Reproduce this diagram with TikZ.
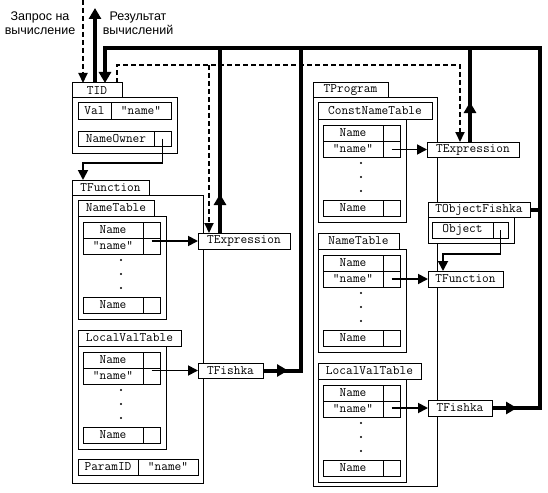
\documentclass[tikz,border=0pt]{standalone}
\usepackage{fontspec}
\newfontfamily\rufont{Liberation Sans}
\usetikzlibrary{arrows.meta}
\tikzset{
cell/.style={draw, fill=white, line width=1pt, inner sep=0pt, outer sep=0pt, anchor=north west, font=\ttfamily\fontsize{13}{13}\selectfont},
bus/.style={line width=4pt},
busarrow/.style={bus, -{Triangle[length=11pt,width=12pt]}},
req/.style={line width=2pt, dash pattern=on 5pt off 3pt},
reqarrow/.style={req, -{Triangle[length=10pt,width=9pt]}},
ptr/.style={line width=1.8pt, -{Triangle[length=10pt,width=10pt]}},
lbl/.style={align=center, font=\rufont\fontsize{12.5}{14}\selectfont}
}
\newcommand{\nametbl}[5]{
\begin{scope}[shift={(#2,#3)}]
\node[cell, minimum width=#4, minimum height=16] (#1tab) at (0,0) {#5};
\node[cell, minimum width=88, minimum height=103] (#1) at (0,16) {};
\node[cell, minimum width=60, minimum height=16] (#1a) at (5,22) {Name};
\node[cell, minimum width=17, minimum height=16] (#1ap) at (65,22) {};
\node[cell, minimum width=60, minimum height=16] (#1b) at (5,38) {"name"};
\node[cell, minimum width=17, minimum height=16] (#1bp) at (65,38) {};
\foreach \y in {60,74,88}
{
\fill (43,\y) circle (1.2pt);
}
\node[cell, minimum width=60, minimum height=16] (#1c) at (5,97) {Name};
\node[cell, minimum width=17, minimum height=16] (#1cp) at (65,97) {};
\end{scope}
}
\begin{document}
\begin{tikzpicture}[x=1pt,y=-1pt]
\useasboundingbox (0,0) rectangle (548,492);
\node[cell, minimum width=50, minimum height=15] (tidtab) at (72,83) {TID};
\node[cell, minimum width=105, minimum height=55] (tid) at (72,98) {};
\node[cell, minimum width=33, minimum height=16] (val) at (78,103) {Val};
\node[cell, minimum width=60, minimum height=16] (valn) at (111,103) {"name"};
\node[cell, minimum width=76, minimum height=15] (owner) at (78,131) {NameOwner};
\node[cell, minimum width=17, minimum height=15] (ownerp) at (154,131) {};
\node[cell, minimum width=77, minimum height=15] (funtab) at (72,180) {TFunction};
\node[cell, minimum width=131, minimum height=288] (fun) at (72,195) {};
\nametbl{ntL}{78}{200}{76}{NameTable}
\nametbl{lvL}{78}{330}{103}{LocalValTable}
\node[cell, minimum width=60, minimum height=16] (param) at (78,459) {ParamID};
\node[cell, minimum width=60, minimum height=16] (paramn) at (138,459) {"name"};
\node[cell, minimum width=92, minimum height=16] (texprL) at (198,233) {TExpression};
\node[cell, minimum width=65, minimum height=15] (tfishL) at (198,363) {TFishka};
\node[cell, minimum width=75, minimum height=15] (progtab) at (313,83) {TProgram};
\node[cell, minimum width=124, minimum height=388] (prog) at (313,98) {};
\nametbl{cnt}{318}{103}{114}{ConstNameTable}
\nametbl{ntR}{318}{233}{81}{NameTable}
\nametbl{lvR}{318}{363}{103}{LocalValTable}
\node[cell, minimum width=92, minimum height=15] (texprR) at (427,142) {TExpression};
\node[cell, minimum width=102, minimum height=15] (objtab) at (428,202) {TObjectFishka};
\node[cell, minimum width=86, minimum height=26] (obj) at (428,217) {};
\node[cell, minimum width=61, minimum height=16] (objn) at (432,222) {Object};
\node[cell, minimum width=15, minimum height=16] (objp) at (493,222) {};
\node[cell, minimum width=75, minimum height=16] (tfuncR) at (428,271) {TFunction};
\node[cell, minimum width=64, minimum height=16] (tfishR) at (428,400) {TFishka};
\node[lbl] (reqlbl) at (40,23) {Запрос на\\вычисление};
\node[lbl] (reslbl) at (138,23) {Результат\\вычислений};
\coordinate (req) at (83,0);
\coordinate (res) at (95,8);
\coordinate (busL) at (105,48);
\coordinate (busE) at (220,48);
\coordinate (busA) at (301,48);
\coordinate (busG) at (470,48);
\coordinate (busR) at (540,48);
\coordinate (dA) at (117,65);
\coordinate (dB) at (209,65);
\coordinate (dC) at (460,65);
\coordinate (bendL) at (83,163);
\coordinate (bendR) at (443,254);
\draw[reqarrow] (req) -- (req |- tidtab.north);
\draw[busarrow] (res |- tidtab.north) -- (res);
\draw[bus, {Triangle[length=11pt,width=12pt]}-] (busL |- tidtab.north) -- (busL) -- (busR) -- (busR |- tfishR.east) -- (tfishR.east);
\draw[busarrow] (tfishR.east) -- ++(25,0);
\draw[bus] (tfishL.east) -- (busA |- tfishL.east) -- (busA);
\draw[busarrow] (tfishL.east) -- ++(25,0);
\draw[bus] (texprL.north -| busE) -- (busE);
\draw[busarrow] (texprL.north -| busE) -- ++(0,-39);
\draw[bus] (texprR.north -| busG) -- (busG);
\draw[busarrow] (texprR.north -| busG) -- ++(0,-40);
\draw[bus] (objtab.east) -- (objtab.east -| busR);
\draw[reqarrow] (dA |- tidtab.north) -- (dA) -- (dC) -- (dC |- texprR.north);
\draw[reqarrow] (dB) -- (dB |- texprL.north);
\draw[ptr] (ownerp.center) |- (bendL) -- (bendL |- funtab.north);
\draw[ptr] (objp.center) |- (bendR) -- (bendR |- tfuncR.north);
\draw[ptr] (ntLbp.center |- texprL.west) -- (texprL.west);
\draw[ptr] (lvLbp.center |- tfishL.west) -- (tfishL.west);
\draw[ptr] (cntbp.center |- texprR.west) -- (texprR.west);
\draw[ptr] (ntRbp.center |- tfuncR.west) -- (tfuncR.west);
\draw[ptr] (lvRbp.center |- tfishR.west) -- (tfishR.west);
\end{tikzpicture}
\end{document}
